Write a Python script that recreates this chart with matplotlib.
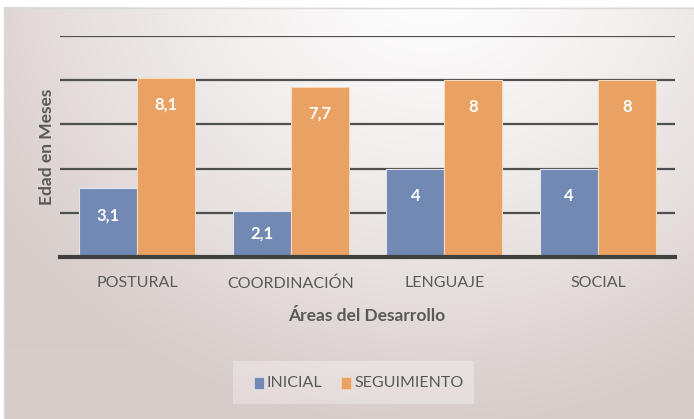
import numpy as np
import matplotlib
matplotlib.use("Agg")
import matplotlib.pyplot as plt
from matplotlib.patches import Rectangle

categories = ["POSTURAL", "COORDINACIÓN", "LENGUAJE", "SOCIAL"]
inicial = [3.1, 2.1, 4, 4]
seguimiento = [8.1, 7.7, 8, 8]
labels_inicial = ["3,1", "2,1", "4", "4"]
labels_seguimiento = ["8,1", "7,7", "8", "8"]
series_names = ["INICIAL", "SEGUIMIENTO"]

W, H = 694, 419
fig = plt.figure(figsize=(W / 100, H / 100), dpi=100)
plt.rcParams['font.family'] = ['Lato', 'DejaVu Sans']

# background gradient
bg = fig.add_axes([0, 0, 1, 1])
bg.set_xlim(0, W)
bg.set_ylim(H, 0)
bg.axis('off')
yy, xx = np.mgrid[0:H, 0:W]
d = np.sqrt(((xx - 430) / 520.0) ** 2 + ((yy + 40) / 470.0) ** 2)
d = np.clip(d, 0, 1)
c_in = np.array([1.0, 1.0, 1.0])
c_out = np.array([0.84, 0.80, 0.79])
img = c_in[None, None, :] * (1 - d[..., None] ** 1.3) + c_out[None, None, :] * (d[..., None] ** 1.3)
img[:8, :, :] = 1.0
img[:, :4, :] = 1.0
bg.imshow(img, extent=[0, W, H, 0], aspect='auto', zorder=0)
bg.plot([4, W], [8, 8], color='#d9d9d9', lw=1, zorder=1)
bg.plot([4, 4], [8, H], color='#d9d9d9', lw=1, zorder=1)
# legend box
bg.add_patch(Rectangle((233, 361), 241, 43, facecolor='#ffffff', alpha=0.3, edgecolor='none', zorder=1))

ax = fig.add_axes([60 / W, 1 - 257 / H, (675 - 60) / W, (257 - 36) / H])
ax.patch.set_alpha(0)
x = np.arange(len(categories))
bw = 0.377
blue = '#7189b3'
orange = '#e9a263'
b1 = ax.bar(x - bw / 2, inicial, bw, color=blue, edgecolor='#dfe4ee', linewidth=0.8, zorder=3)
b2 = ax.bar(x + bw / 2, seguimiento, bw, color=orange, edgecolor='#f6d9bd', linewidth=0.8, zorder=3)
ax.set_xlim(-0.5, 3.5)
ax.set_ylim(0, 10)
ax.set_yticks([2, 4, 6, 8, 10])
ax.yaxis.grid(True, color='#505050', lw=1.6, zorder=1)
ax.tick_params(axis='y', length=0, labelleft=False)
ax.tick_params(axis='x', length=0, pad=14, labelsize=11.5, labelcolor='#595959')
ax.set_xticks(x)
ax.set_xticklabels(categories)
for s in ['left', 'right', 'top']:
    ax.spines[s].set_visible(False)
ax.spines['bottom'].set_color('#404040')
ax.spines['bottom'].set_linewidth(3)
ax.spines['bottom'].set_zorder(4)

px_per_unit = (257 - 36) / 10.0
for bars, vals, labs in [(b1, inicial, labels_inicial), (b2, seguimiento, labels_seguimiento)]:
    for r, v, l in zip(bars, vals, labs):
        hpx = v * px_per_unit
        off = min(27, hpx / 2)
        ax.annotate(l, (r.get_x() + r.get_width() / 2, v), xytext=(0, -off * 0.72),
                    textcoords='offset points', ha='center', va='center',
                    color='white', fontsize=12, fontweight='bold', zorder=5)

fig.text(47 / W, 1 - 147 / H, "Edad en Meses", rotation=90, ha='center', va='center',
         fontsize=12.5, fontweight='bold', color='#595959')
fig.text(367 / W, 1 - 316 / H, "Áreas del Desarrollo", ha='center', va='center',
         fontsize=12.5, fontweight='bold', color='#595959')

# legend
fig.patches.append(Rectangle((254 / W, 1 - 389 / H), 10 / W, 12 / H, transform=fig.transFigure,
                             facecolor=blue, edgecolor='#dfe4ee', linewidth=0.5))
fig.text(267 / W, 1 - 383 / H, series_names[0], ha='left', va='center', fontsize=11.5, color='#595959')
fig.patches.append(Rectangle((341 / W, 1 - 389 / H), 10 / W, 12 / H, transform=fig.transFigure,
                             facecolor=orange, edgecolor='#f6d9bd', linewidth=0.5))
fig.text(354 / W, 1 - 383 / H, series_names[1], ha='left', va='center', fontsize=11.5, color='#595959')

fig.savefig("out.png", dpi=100)
